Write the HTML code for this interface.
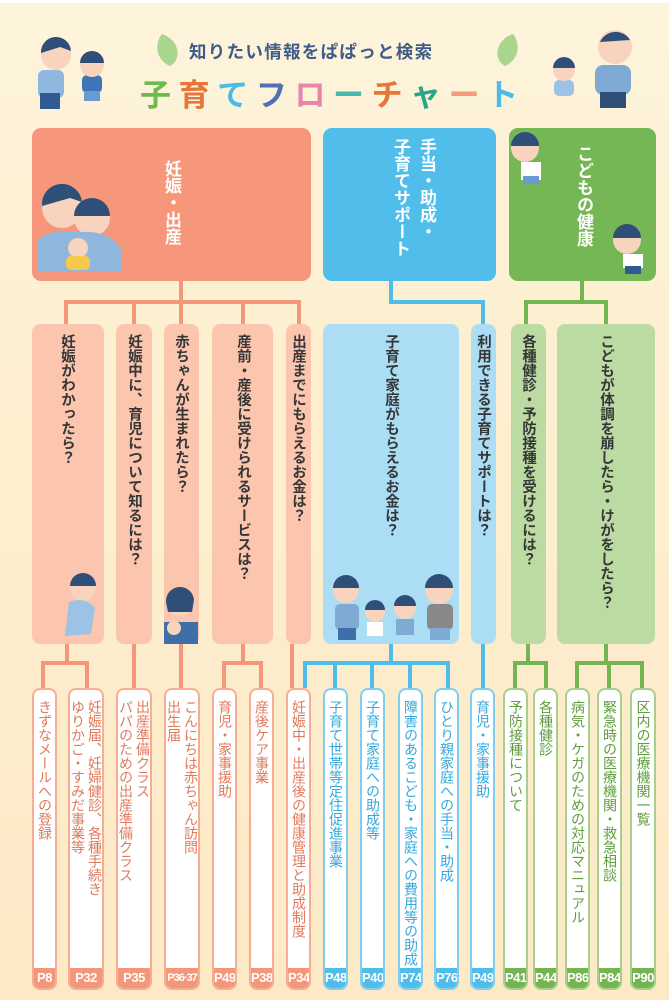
<!DOCTYPE html>
<html><head><meta charset="utf-8">
<style>
*{margin:0;padding:0;box-sizing:border-box}
body{width:669px;height:1000px;overflow:hidden;position:relative;background:linear-gradient(180deg,#fdf4dc 0%,#fdefcf 40%,#fde9c6 100%);font-family:"Liberation Sans","Noto Sans CJK JP",sans-serif}
.a{position:absolute}
.big{position:absolute;top:128px;height:153px;border-radius:9px}
.bt{position:absolute;writing-mode:vertical-rl;color:#fff;font-weight:bold;font-size:17px;line-height:26px;white-space:nowrap}
.mid{position:absolute;top:324px;height:320px;border-radius:8px}
.mt{position:absolute;top:334px;writing-mode:vertical-rl;font-weight:bold;font-size:14.5px;line-height:18px;color:#363636;transform:translateX(-50%)}
.b{position:absolute;top:688px;height:302px;border:2px solid;border-radius:8px;background:#fff;overflow:hidden}
.b .t{position:absolute;top:10px;left:50%;transform:translateX(-50%);writing-mode:vertical-rl;font-size:14px;line-height:17px;white-space:nowrap}
.b .p{position:absolute;bottom:0;left:0;right:0;height:20px;color:#fff;font-weight:bold;font-size:13px;line-height:20px;text-align:center;letter-spacing:-0.5px}
.pk{border-color:#f7ad93}.pk .t{color:#e07a5c}.pk .p{background:#f4967a}
.bl{border-color:#7fcdef}.bl .t{color:#36a8dc}.bl .p{background:#4fbde9}
.gr{border-color:#a6d08c}.gr .t{color:#5e9e3e}.gr .p{background:#74b552}
.lp{position:absolute;background:#f4967a}
.lb{position:absolute;background:#4fbde9}
.lg{position:absolute;background:#74b552}
</style></head><body>
<div class="a" style="left:0;top:0;width:669px;height:3px;background:#fff"></div>

<svg class="a" style="left:150px;top:30px" width="40" height="40"><path d="M12 4 C30 10 32 30 20 36 C6 30 4 14 12 4Z" fill="#a9d58c"/></svg>
<svg class="a" style="left:485px;top:30px" width="40" height="40"><path d="M28 4 C10 10 8 30 20 36 C34 30 36 14 28 4Z" fill="#a9d58c"/></svg>
<div class="a" style="left:189px;top:39px;font-size:17.5px;font-weight:bold;color:#3f5c88;letter-spacing:1.3px;white-space:nowrap">知りたい情報をぱぱっと検索</div>
<div class="a" style="left:140px;top:70px;font-size:31px;font-weight:bold;white-space:nowrap;letter-spacing:7.6px">
<span style="color:#6fba4f">子</span><span style="color:#e7763a">育</span><span style="color:#4cbbea">て</span><span style="color:#4f71b8">フ</span><span style="color:#e885ab">ロ</span><span style="color:#48b9b0">ー</span><span style="color:#e7763a">チ</span><span style="color:#2aa58a">ャ</span><span style="color:#f59b7c">ー</span><span style="color:#4cbbea">ト</span></div>

<svg class="a" style="left:10px;top:25px" width="120" height="85">
<rect x="28" y="45" width="26" height="28" rx="6" fill="#8fb8de"/><rect x="30" y="68" width="20" height="16" fill="#2f5a94"/>
<circle cx="46" cy="30" r="15" fill="#f8d3bd"/><path d="M31 28 A15 15 0 0 1 61 26 L50 22 Z" fill="#2f4f78"/>
<rect x="72" y="50" width="20" height="18" rx="5" fill="#3f74b8"/><rect x="74" y="66" width="16" height="10" fill="#6a9bd0"/>
<circle cx="82" cy="40" r="12" fill="#f8d3bd"/><path d="M70 38 A12 12 0 0 1 94 38 Z" fill="#2f4f78"/>
</svg>
<svg class="a" style="left:540px;top:20px" width="125" height="100">
<rect x="55" y="45" width="36" height="30" rx="8" fill="#7eaad4"/><rect x="60" y="72" width="26" height="16" fill="#2f4f78"/>
<circle cx="75" cy="27" r="17" fill="#f8d3bd"/><path d="M60 22 A17 17 0 0 1 90 20 Z" fill="#2f4f78"/>
<rect x="14" y="60" width="20" height="16" rx="5" fill="#9cc3e6"/>
<circle cx="24" cy="50" r="11" fill="#f8d3bd"/><path d="M13 48 A11 11 0 0 1 35 48 Z" fill="#2f4f78"/>
</svg>

<div class="big" style="left:32px;width:279px;background:#f6967a"></div>
<div class="big" style="left:323px;width:173px;background:#50bdea"></div>
<div class="big" style="left:509px;width:147px;background:#75b655"></div>
<div class="bt" style="left:158px;top:160px">妊娠・出産</div>
<div class="bt" style="left:387px;top:138px">手当・助成・<br>子育てサポート</div>
<div class="bt" style="left:570px;top:145px">こどもの健康</div>
<svg class="a" style="left:30px;top:180px" width="100" height="95">
<circle cx="32" cy="28" r="20" fill="#f8d3bd"/><path d="M12 26 A20 20 0 0 1 52 22 L40 18Z" fill="#2f4f78"/>
<circle cx="62" cy="38" r="18" fill="#f8d3bd"/><path d="M44 36 A18 18 0 0 1 80 36Z" fill="#2f4f78"/>
<path d="M8 60 Q20 48 50 52 Q80 50 92 70 L92 92 L8 92Z" fill="#8fb6dc"/>
<circle cx="48" cy="68" r="10" fill="#f8d3bd"/><rect x="36" y="76" width="24" height="14" rx="5" fill="#f6c94a"/>
</svg>
<svg class="a" style="left:503px;top:128px" width="60" height="60"><circle cx="22" cy="20" r="14" fill="#f8d3bd"/><path d="M8 18 A14 14 0 0 1 36 18Z" fill="#2f4f78"/><rect x="18" y="34" width="20" height="18" fill="#fff"/><rect x="20" y="48" width="16" height="8" fill="#6a9bd0"/></svg>
<svg class="a" style="left:605px;top:220px" width="55" height="62"><circle cx="22" cy="20" r="14" fill="#f8d3bd"/><path d="M8 18 A14 14 0 0 1 36 18Z" fill="#2f4f78"/><rect x="18" y="34" width="20" height="14" fill="#fff"/><rect x="20" y="46" width="16" height="8" fill="#2f5a94"/></svg>

<div class="lp" style="left:179px;top:281px;width:4px;height:22px"></div>
<div class="lp" style="left:64px;top:300px;width:237px;height:4px"></div>
<div class="lp" style="left:64px;top:300px;width:4px;height:24px"></div>
<div class="lp" style="left:132px;top:300px;width:4px;height:24px"></div>
<div class="lp" style="left:179px;top:300px;width:4px;height:24px"></div>
<div class="lp" style="left:241px;top:300px;width:4px;height:24px"></div>
<div class="lp" style="left:297px;top:300px;width:4px;height:24px"></div>
<div class="lb" style="left:389px;top:281px;width:4px;height:22px"></div>
<div class="lb" style="left:389px;top:300px;width:96px;height:4px"></div>
<div class="lb" style="left:481px;top:300px;width:4px;height:24px"></div>
<div class="lg" style="left:580px;top:281px;width:4px;height:22px"></div>
<div class="lg" style="left:524px;top:300px;width:84px;height:4px"></div>
<div class="lg" style="left:524px;top:300px;width:4px;height:24px"></div>
<div class="lg" style="left:604px;top:300px;width:4px;height:24px"></div>

<div class="mid" style="left:32px;width:72px;background:#fbc5ae"></div>
<div class="mid" style="left:116px;width:36px;background:#fbc5ae"></div>
<div class="mid" style="left:164px;width:35px;background:#fbc5ae"></div>
<div class="mid" style="left:212px;width:61px;background:#fbc5ae"></div>
<div class="mid" style="left:286px;width:25px;background:#fbc5ae"></div>
<div class="mid" style="left:323px;width:136px;background:#abddf5"></div>
<div class="mid" style="left:471px;width:25px;background:#abddf5"></div>
<div class="mid" style="left:511px;width:35px;background:#bcdba3"></div>
<div class="mid" style="left:557px;width:98px;background:#bcdba3"></div>
<div class="mt" style="left:67px">妊娠がわかったら？</div>
<div class="mt" style="left:134px">妊娠中に、育児について知るには？</div>
<div class="mt" style="left:181px">赤ちゃんが生まれたら？</div>
<div class="mt" style="left:243px">産前・産後に受けられるサービスは？</div>
<div class="mt" style="left:298px">出産までにもらえるお金は？</div>
<div class="mt" style="left:391px">子育て家庭がもらえるお金は？</div>
<div class="mt" style="left:483px">利用できる子育てサポートは？</div>
<div class="mt" style="left:528px">各種健診・予防接種を受けるには？</div>
<div class="mt" style="left:606px">こどもが体調を崩したら・けがをしたら？</div>
<svg class="a" style="left:55px;top:568px" width="50" height="76"><circle cx="28" cy="20" r="13" fill="#f8d3bd"/><path d="M15 18 A13 13 0 0 1 41 18Z" fill="#2f4f78"/><path d="M14 34 Q30 28 40 40 L36 66 L10 68Z" fill="#9cc3e6"/></svg>
<svg class="a" style="left:158px;top:582px" width="46" height="62"><circle cx="22" cy="20" r="14" fill="#f8d3bd"/><path d="M8 20 A14 14 0 0 1 36 18 L34 30 L10 30Z" fill="#2f4f78"/><path d="M6 40 L40 40 L40 62 L6 62Z" fill="#3f6fa8"/><circle cx="16" cy="46" r="7" fill="#f8d3bd"/></svg>
<svg class="a" style="left:323px;top:568px" width="136" height="76">
<circle cx="23" cy="22" r="13" fill="#f8d3bd"/><path d="M10 20 A13 13 0 0 1 36 20Z" fill="#2f4f78"/><rect x="12" y="36" width="24" height="26" rx="5" fill="#7eaad4"/><rect x="15" y="60" width="18" height="12" fill="#3f6fa8"/>
<circle cx="52" cy="44" r="10" fill="#f8d3bd"/><path d="M42 42 A10 10 0 0 1 62 42Z" fill="#2f4f78"/><rect x="44" y="54" width="16" height="14" fill="#fff"/>
<circle cx="82" cy="40" r="11" fill="#f8d3bd"/><path d="M71 38 A11 11 0 0 1 93 38Z" fill="#2f4f78"/><rect x="73" y="51" width="18" height="16" fill="#7eaad4"/>
<circle cx="116" cy="22" r="14" fill="#f8d3bd"/><path d="M102 20 A14 14 0 0 1 130 20Z" fill="#2f4f78"/><rect x="104" y="36" width="26" height="26" rx="5" fill="#888"/><rect x="107" y="60" width="20" height="12" fill="#7eaad4"/>
</svg>

<div class="lp" style="left:65px;top:644px;width:4px;height:20px"></div>
<div class="lp" style="left:41px;top:661px;width:48px;height:4px"></div>
<div class="lp" style="left:41px;top:661px;width:4px;height:27px"></div>
<div class="lp" style="left:85px;top:661px;width:4px;height:27px"></div>
<div class="lp" style="left:132px;top:644px;width:4px;height:44px"></div>
<div class="lp" style="left:179px;top:644px;width:4px;height:44px"></div>
<div class="lp" style="left:241px;top:644px;width:4px;height:20px"></div>
<div class="lp" style="left:222px;top:661px;width:41px;height:4px"></div>
<div class="lp" style="left:222px;top:661px;width:4px;height:27px"></div>
<div class="lp" style="left:259px;top:661px;width:4px;height:27px"></div>
<div class="lp" style="left:290px;top:644px;width:4px;height:44px"></div>
<div class="lb" style="left:389px;top:644px;width:4px;height:20px"></div>
<div class="lb" style="left:303px;top:661px;width:147px;height:4px"></div>
<div class="lb" style="left:303px;top:661px;width:4px;height:27px"></div>
<div class="lb" style="left:333px;top:661px;width:4px;height:27px"></div>
<div class="lb" style="left:370px;top:661px;width:4px;height:27px"></div>
<div class="lb" style="left:408px;top:661px;width:4px;height:27px"></div>
<div class="lb" style="left:446px;top:661px;width:4px;height:27px"></div>
<div class="lb" style="left:481px;top:644px;width:4px;height:44px"></div>
<div class="lg" style="left:526px;top:644px;width:4px;height:20px"></div>
<div class="lg" style="left:513px;top:661px;width:35px;height:4px"></div>
<div class="lg" style="left:513px;top:661px;width:4px;height:27px"></div>
<div class="lg" style="left:544px;top:661px;width:4px;height:27px"></div>
<div class="lg" style="left:604px;top:644px;width:4px;height:20px"></div>
<div class="lg" style="left:575px;top:661px;width:69px;height:4px"></div>
<div class="lg" style="left:575px;top:661px;width:4px;height:27px"></div>
<div class="lg" style="left:607px;top:661px;width:4px;height:27px"></div>
<div class="lg" style="left:640px;top:661px;width:4px;height:27px"></div>

<div class="b pk" style="left:32px;width:25px"><div class="t">きずなメールへの登録</div><div class="p">P8</div></div>
<div class="b pk" style="left:68px;width:36px"><div class="t">妊娠届、妊婦健診、各種手続き<br>ゆりかご・すみだ事業等</div><div class="p">P32</div></div>
<div class="b pk" style="left:116px;width:36px"><div class="t">出産準備クラス<br>パパのための出産準備クラス</div><div class="p">P35</div></div>
<div class="b pk" style="left:164px;width:36px"><div class="t">こんにちは赤ちゃん訪問<br>出生届</div><div class="p" style="font-size:11px;letter-spacing:-1px">P36·37</div></div>
<div class="b pk" style="left:212px;width:25px"><div class="t">育児・家事援助</div><div class="p">P49</div></div>
<div class="b pk" style="left:249px;width:25px"><div class="t">産後ケア事業</div><div class="p">P38</div></div>
<div class="b pk" style="left:286px;width:25px"><div class="t">妊娠中・出産後の健康管理と助成制度</div><div class="p">P34</div></div>
<div class="b bl" style="left:323px;width:25px"><div class="t">子育て世帯等定住促進事業</div><div class="p">P48</div></div>
<div class="b bl" style="left:360px;width:25px"><div class="t">子育て家庭への助成等</div><div class="p">P40</div></div>
<div class="b bl" style="left:398px;width:25px"><div class="t">障害のあるこども・家庭への費用等の助成</div><div class="p">P74</div></div>
<div class="b bl" style="left:434px;width:25px"><div class="t">ひとり親家庭への手当・助成</div><div class="p">P76</div></div>
<div class="b bl" style="left:470px;width:25px"><div class="t">育児・家事援助</div><div class="p">P49</div></div>
<div class="b gr" style="left:503px;width:25px"><div class="t">予防接種について</div><div class="p">P41</div></div>
<div class="b gr" style="left:533px;width:25px"><div class="t">各種健診</div><div class="p">P44</div></div>
<div class="b gr" style="left:565px;width:25px"><div class="t">病気・ケガのための対応マニュアル</div><div class="p">P86</div></div>
<div class="b gr" style="left:597px;width:25px"><div class="t">緊急時の医療機関・救急相談</div><div class="p">P84</div></div>
<div class="b gr" style="left:630px;width:26px"><div class="t">区内の医療機関一覧</div><div class="p">P90</div></div>
</body></html>
